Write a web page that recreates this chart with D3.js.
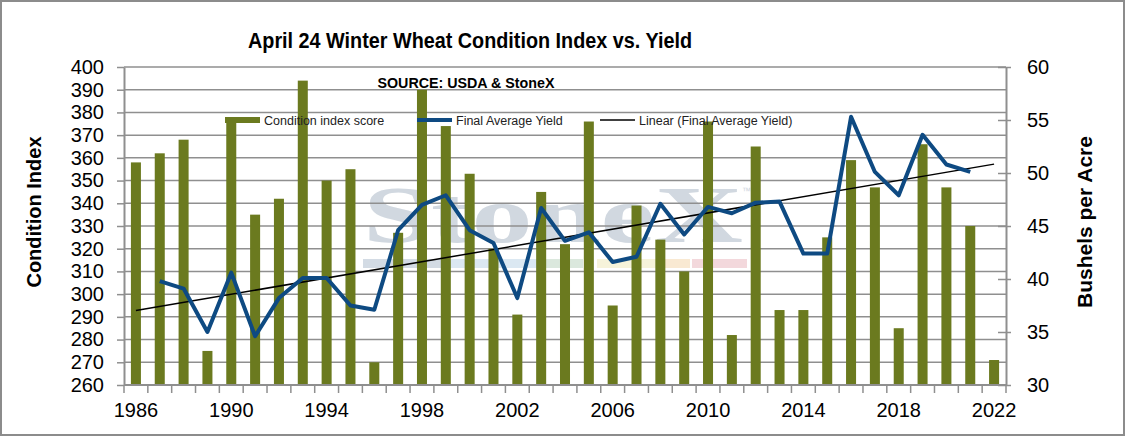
<!DOCTYPE html>
<html>
<head>
<meta charset="utf-8">
<script src="https://cdn.jsdelivr.net/npm/d3@7"></script>
<style>
  body { margin: 0; background: #fff; }
  svg text { font-family: "Liberation Sans", Arial, sans-serif; }
</style>
</head>
<body>
<svg width="1125" height="436"></svg>
<script>
const years = d3.range(1986, 2023);
const conditionIndex = [358, 362, 368, 275, 376, 335, 342, 394, 350, 355, 270,
  327, 390, 374, 353, 320, 291, 345, 322, 376, 295, 339, 324, 310, 376, 282, 365,
  293, 293, 325, 359, 347, 285, 366, 347, 330, 271];
const yieldYears = d3.range(1987, 2022);
const finalYield = [39.8, 39.1, 35.0, 40.6, 34.6, 38.2, 40.1, 40.1, 37.5, 37.1,
  44.6, 47.0, 47.9, 44.6, 43.4, 38.2, 46.7, 43.6, 44.4, 41.6, 42.1, 47.1, 44.2,
  46.8, 46.2, 47.2, 47.3, 42.4, 42.4, 55.3, 50.1, 47.9, 53.6, 50.8, 50.1];
const leftTicks = d3.range(260, 401, 10);
const rightTicks = [30, 35, 40, 45, 50, 55, 60];
const yearLabels = [1986, 1990, 1994, 1998, 2002, 2006, 2010, 2014, 2018, 2022];

const svg = d3.select("svg"),
      margin = {top: 67, right: 119, bottom: 51, left: 124},
      width = +svg.attr("width") - margin.left - margin.right,
      height = +svg.attr("height") - margin.top - margin.bottom;

const barColor = "#6b7a1f", lineColor = "#0e4a82", gridColor = "#8f8f8f";

// outer frame
svg.append("rect").attr("x", 1).attr("y", 1).attr("width", 1123).attr("height", 434)
  .attr("fill", "#fff").attr("stroke", "#8c8c8c").attr("stroke-width", 2);

const g = svg.append("g").attr("transform", `translate(${margin.left},${margin.top})`);

const x = d3.scaleBand().domain(years).range([0, width]).paddingInner(0.58).paddingOuter(0.29);
const y = d3.scaleLinear().domain([260, 400]).range([height, 0]);
const y2 = d3.scaleLinear().domain([30, 60]).range([height, 0]);
const cx = yr => x(yr) + x.bandwidth() / 2;

// StoneX watermark
const wm = g.append("g").attr("opacity", 0.8);
wm.append("text").attr("x", 239).attr("y", 175)
  .attr("textLength", 380).attr("lengthAdjust", "spacingAndGlyphs")
  .style("font-family", "'Liberation Serif', 'DejaVu Serif', serif")
  .style("font-size", "80px").style("font-weight", "bold").attr("fill", "#c6cfd9").text("StoneX");
wm.append("text").attr("x", 618).attr("y", 127).style("font-size", "9px").attr("fill", "#c3ccd6").text("™");
[[239, 326, "#c9d3de"], [326, 419, "#d3e3ef"], [419, 459, "#d3e3d5"],
 [473, 536, "#f5f1d2"], [536, 566, "#f8e4c8"], [568, 623, "#f1cfd4"]].forEach(([a, b, c]) => {
  wm.append("rect").attr("x", a).attr("y", 192).attr("width", b - a).attr("height", 9).attr("fill", c);
});

// gridlines
g.append("g").selectAll("line").data(leftTicks).join("line")
  .attr("x1", 0).attr("x2", width).attr("y1", d => y(d)).attr("y2", d => y(d))
  .attr("stroke", gridColor).attr("stroke-width", 1.5);

// bars
g.append("g").selectAll("rect").data(years).join("rect")
  .attr("x", d => x(d)).attr("width", x.bandwidth())
  .attr("y", (d, i) => y(conditionIndex[i]))
  .attr("height", (d, i) => height - y(conditionIndex[i]))
  .attr("fill", barColor);

// linear trend of yield
const meanX = d3.mean(yieldYears), meanY = d3.mean(finalYield);
const slope = d3.sum(yieldYears, (v, i) => (v - meanX) * (finalYield[i] - meanY)) /
              d3.sum(yieldYears, v => (v - meanX) ** 2);
const trend = yr => meanY + slope * (yr - meanX);
g.append("line")
  .attr("x1", cx(1986)).attr("y1", y2(trend(1986)))
  .attr("x2", cx(2022)).attr("y2", y2(trend(2022)))
  .attr("stroke", "#000").attr("stroke-width", 1.5);

// yield line
g.append("path").datum(yieldYears)
  .attr("fill", "none").attr("stroke", lineColor).attr("stroke-width", 4)
  .attr("stroke-linejoin", "round")
  .attr("d", d3.line().x(d => cx(d)).y((d, i) => y2(finalYield[i])));

// axes
const axisStyle = sel => {
  sel.select(".domain").attr("stroke", gridColor).attr("stroke-width", 2);
  sel.selectAll(".tick line").attr("stroke", gridColor).attr("stroke-width", 1.5);
  sel.selectAll("text").style("font-size", "20px").attr("fill", "#000");
};

g.append("g")
  .call(d3.axisLeft(y).tickValues(leftTicks).tickSize(7).tickSizeOuter(0).tickPadding(13))
  .call(axisStyle);

g.append("g").attr("transform", `translate(${width},0)`)
  .call(d3.axisRight(y2).tickValues(rightTicks).tickSize(5).tickSizeOuter(0).tickPadding(16))
  .call(axisStyle)
  .call(a => a.selectAll(".tick line").attr("x1", -8));

const xa = g.append("g").attr("transform", `translate(0,${height})`);
xa.append("line").attr("x1", 0).attr("x2", width).attr("stroke", gridColor).attr("stroke-width", 2);
xa.selectAll(".tk").data(d3.range(years.length + 1)).join("line").attr("class", "tk")
  .attr("x1", i => i * x.step()).attr("x2", i => i * x.step())
  .attr("y1", 0).attr("y2", 8).attr("stroke", gridColor).attr("stroke-width", 1.5);
xa.selectAll("text").data(yearLabels).join("text")
  .attr("x", d => cx(d)).attr("y", 32).attr("text-anchor", "middle")
  .style("font-size", "20px").text(d => d);

// titles
svg.append("text").attr("x", 470).attr("y", 48).attr("text-anchor", "middle")
  .attr("textLength", 444).attr("lengthAdjust", "spacingAndGlyphs")
  .style("font-size", "22px").style("font-weight", "bold").text("April 24 Winter Wheat Condition Index vs. Yield");
svg.append("text").attr("x", 466).attr("y", 88).attr("text-anchor", "middle")
  .attr("textLength", 177).attr("lengthAdjust", "spacingAndGlyphs")
  .style("font-size", "15px").style("font-weight", "bold").text("SOURCE: USDA & StoneX");
svg.append("text").attr("transform", "translate(41,212) rotate(-90)").attr("text-anchor", "middle")
  .style("font-size", "20px").style("font-weight", "bold").text("Condition Index");
svg.append("text").attr("transform", "translate(1092,222) rotate(-90)").attr("text-anchor", "middle")
  .style("font-size", "21px").style("font-weight", "bold").text("Bushels per Acre");

// legend
const legend = [
  {label: "Condition index score", color: barColor, w: 6, x: 225},
  {label: "Final Average Yield", color: lineColor, w: 4, x: 417},
  {label: "Linear (Final Average Yield)", color: "#000", w: 1.5, x: 600}
];
const lg = svg.append("g").selectAll("g").data(legend).join("g")
  .attr("transform", d => `translate(${d.x},120)`);
lg.append("line").attr("x1", 0).attr("x2", 35).attr("stroke", d => d.color).attr("stroke-width", d => d.w);
lg.append("text").attr("x", 39).attr("y", 5).style("font-size", "12.5px").attr("fill", "#222").text(d => d.label);
</script>
</body>
</html>
